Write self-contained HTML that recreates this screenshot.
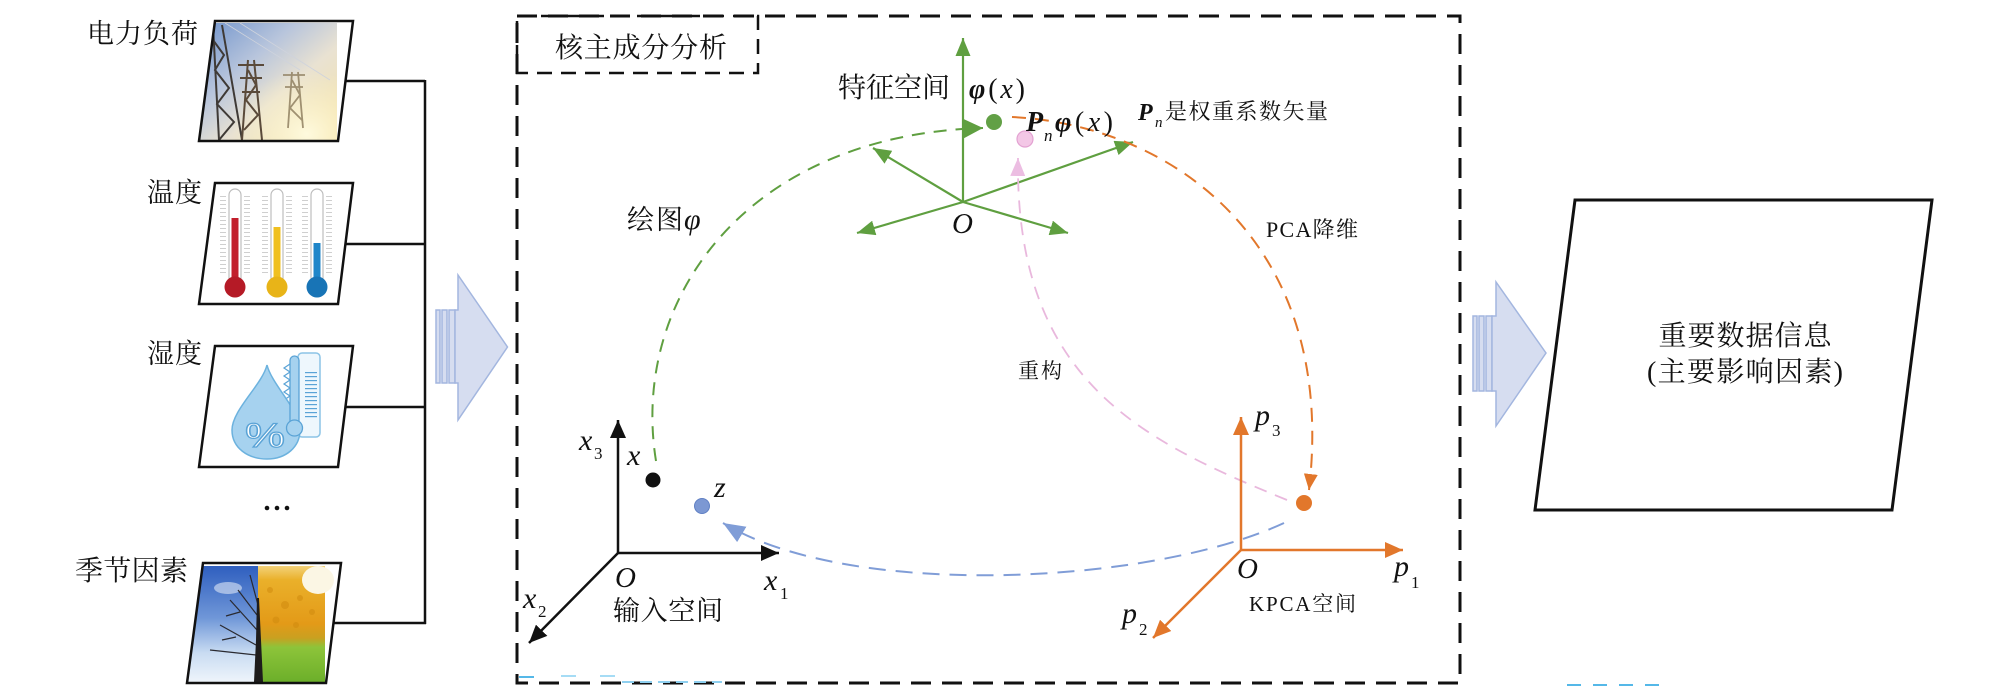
<!DOCTYPE html>
<html><head><meta charset="utf-8">
<style>
html,body{margin:0;padding:0;background:#fff;width:2008px;height:698px;overflow:hidden}
svg{display:block}
.cj{font-family:"Liberation Serif","Noto Serif CJK SC",serif;fill:#111}
.mi{font-family:"Liberation Serif",serif;font-style:italic;fill:#111}
.mu{font-family:"Liberation Serif",serif;fill:#111}
</style></head>
<body>
<svg width="2008" height="698" viewBox="0 0 2008 698" xmlns="http://www.w3.org/2000/svg">
<defs>
  <marker id="mB" viewBox="0 0 18 16" refX="18" refY="8" markerWidth="18" markerHeight="16" orient="auto" markerUnits="userSpaceOnUse"><path d="M0,0 L18,8 L0,16 z" fill="#111"/></marker>
  <marker id="mG" viewBox="0 0 18 15" refX="18" refY="7.5" markerWidth="18" markerHeight="15" orient="auto" markerUnits="userSpaceOnUse"><path d="M0,0 L18,7.5 L0,15 z" fill="#5f9f40"/></marker>
  <marker id="mGB" viewBox="0 0 20 20" refX="20" refY="10" markerWidth="20" markerHeight="20" orient="auto" markerUnits="userSpaceOnUse"><path d="M0,0 L20,10 L0,20 z" fill="#5f9f40"/></marker>
  <marker id="mO" viewBox="0 0 18 16" refX="18" refY="8" markerWidth="18" markerHeight="16" orient="auto" markerUnits="userSpaceOnUse"><path d="M0,0 L18,8 L0,16 z" fill="#e2772b"/></marker>
  <marker id="mOC" viewBox="0 0 16 14" refX="16" refY="7" markerWidth="16" markerHeight="14" orient="auto" markerUnits="userSpaceOnUse"><path d="M0,0 L16,7 L0,14 z" fill="#e2772b"/></marker>
  <marker id="mP" viewBox="0 0 18 15" refX="18" refY="7.5" markerWidth="18" markerHeight="15" orient="auto" markerUnits="userSpaceOnUse"><path d="M0,0 L18,7.5 L0,15 z" fill="#ecbde2"/></marker>
  <marker id="mBl" viewBox="0 0 22 18" refX="22" refY="9" markerWidth="22" markerHeight="18" orient="auto" markerUnits="userSpaceOnUse"><path d="M0,0 L22,9 L0,18 z" fill="#809dd7"/></marker>

  <clipPath id="c1"><polygon points="215,21 353,21 338,141 199,141"/></clipPath>
  <clipPath id="c4"><polygon points="203,563 341,563 326,683 187,683"/></clipPath>

  <linearGradient id="sky" x1="0" y1="0" x2="1" y2="1">
    <stop offset="0" stop-color="#6f93cc"/>
    <stop offset="0.35" stop-color="#b8c5dc"/>
    <stop offset="0.6" stop-color="#e9e2d2"/>
    <stop offset="1" stop-color="#f5e2a4"/>
  </linearGradient>
  <radialGradient id="sun" cx="0.78" cy="0.95" r="0.55">
    <stop offset="0" stop-color="#fffbe0" stop-opacity="0.95"/>
    <stop offset="1" stop-color="#fff3c0" stop-opacity="0"/>
  </radialGradient>
  <linearGradient id="win" x1="0" y1="0" x2="0" y2="1">
    <stop offset="0" stop-color="#2f5fbf"/>
    <stop offset="0.45" stop-color="#7097d8"/>
    <stop offset="0.75" stop-color="#c9dcf2"/>
    <stop offset="1" stop-color="#eef4fb"/>
  </linearGradient>
  <linearGradient id="aut" x1="0" y1="0" x2="0" y2="1">
    <stop offset="0" stop-color="#f3d27a"/>
    <stop offset="0.12" stop-color="#eab02a"/>
    <stop offset="0.5" stop-color="#e39a18"/>
    <stop offset="0.62" stop-color="#c9a020"/>
    <stop offset="0.7" stop-color="#8dc43a"/>
    <stop offset="1" stop-color="#6caf2a"/>
  </linearGradient>
  <pattern id="tk" width="6" height="4" patternUnits="userSpaceOnUse"><rect width="6" height="1" fill="#cfcfcf"/></pattern>
  <pattern id="tkb" width="12" height="4" patternUnits="userSpaceOnUse"><rect width="12" height="1.2" fill="#5aa3d6"/></pattern>
</defs>

<!-- Image 1: power towers -->
<g clip-path="url(#c1)">
  <rect x="199" y="23" width="138" height="117" fill="url(#sky)"/>
  <rect x="199" y="23" width="138" height="117" fill="url(#sun)"/>
  <g stroke="#cfd3dc" stroke-width="0.8" fill="none">
    <line x1="225" y1="23" x2="300" y2="70"/>
    <line x1="240" y1="23" x2="330" y2="80"/>
  </g>
  <g stroke="#3f3a36" stroke-width="2" fill="none">
    <line x1="213" y1="25" x2="219" y2="140"/>
    <line x1="222" y1="25" x2="242" y2="140"/>
    <polyline points="213,40 224,55 215,70 229,88 217,104 234,122 219,140"/>
  </g>
  <g stroke="#5a4a3a" stroke-width="2" fill="none">
    <line x1="248" y1="60" x2="242" y2="140"/>
    <line x1="254" y1="60" x2="262" y2="140"/>
    <line x1="238" y1="65" x2="264" y2="65"/>
    <line x1="240" y1="78" x2="262" y2="78"/>
    <line x1="242" y1="92" x2="260" y2="92"/>
    <polyline points="248,70 256,85 246,100 258,115 244,130"/>
  </g>
  <g stroke="#8a7a5a" stroke-width="1.8" fill="none" opacity="0.8">
    <line x1="292" y1="72" x2="288" y2="128"/>
    <line x1="298" y1="72" x2="303" y2="128"/>
    <line x1="283" y1="75" x2="305" y2="75"/>
    <line x1="285" y1="87" x2="303" y2="87"/>
    <polyline points="292,80 300,95 290,108 302,120"/>
  </g>
</g>
<polygon points="215,21 353,21 338,141 199,141" fill="none" stroke="#111" stroke-width="2.5"/>

<!-- Image 2: thermometers -->
<g>
  <rect x="220" y="193" width="6" height="82" fill="url(#tk)"/><rect x="244" y="193" width="6" height="82" fill="url(#tk)"/>
  <rect x="262" y="193" width="6" height="82" fill="url(#tk)"/><rect x="286" y="193" width="6" height="82" fill="url(#tk)"/>
  <rect x="302" y="193" width="6" height="82" fill="url(#tk)"/><rect x="326" y="193" width="6" height="82" fill="url(#tk)"/>
  <rect x="229" y="189" width="12" height="95" rx="6" fill="#fff" stroke="#bdbdbd" stroke-width="1.2"/>
  <rect x="271" y="189" width="12" height="95" rx="6" fill="#fff" stroke="#bdbdbd" stroke-width="1.2"/>
  <rect x="311" y="189" width="12" height="95" rx="6" fill="#fff" stroke="#bdbdbd" stroke-width="1.2"/>
  <rect x="231.5" y="218" width="7" height="66" fill="#c21f2c"/>
  <rect x="273.5" y="227" width="7" height="57" fill="#f0c020"/>
  <rect x="313.5" y="243" width="7" height="41" fill="#1f86c9"/>
  <circle cx="235" cy="287" r="10.5" fill="#b51a26"/>
  <circle cx="277" cy="287" r="10.5" fill="#e8b418"/>
  <circle cx="317" cy="287" r="10.5" fill="#1874b6"/>
</g>
<polygon points="215,183 353,183 338,304 199,304" fill="none" stroke="#111" stroke-width="2.5"/>

<!-- Image 3: humidity -->
<g>
  <rect x="298" y="353" width="22" height="84" rx="4" fill="#eef7fd" stroke="#8cc4e6" stroke-width="1.5"/>
  <rect x="305" y="370" width="12" height="48" fill="url(#tkb)"/>
  <polyline points="290,364 284,368 290,372 284,376 290,380 284,384 290,388 284,392 290,396 284,400 290,404 284,408 290,412" fill="none" stroke="#5aa3d6" stroke-width="1.2"/>
  <path d="M267,365 C262,385 232,410 232,430 C232,448 248,459 267,459 C286,459 300,447 300,430 C300,410 272,385 267,365 Z" fill="#a6d2ef" stroke="#6cb2de" stroke-width="1.5"/>
  <rect x="290" y="356" width="9" height="72" rx="4.5" fill="#a6d2ef" stroke="#5aa3d6" stroke-width="1.3"/>
  <circle cx="294.5" cy="428" r="8" fill="#a6d2ef" stroke="#5aa3d6" stroke-width="1.3"/>
  <text x="245" y="447" font-family="Liberation Sans, sans-serif" font-size="34" textLength="40" lengthAdjust="spacingAndGlyphs" fill="#fff" stroke="#5aa3d6" stroke-width="1.2">%</text>
</g>
<polygon points="215,346 353,346 338,467 199,467" fill="none" stroke="#111" stroke-width="2.5"/>

<circle cx="267" cy="508" r="2.3" fill="#111"/><circle cx="277" cy="508" r="2.3" fill="#111"/><circle cx="287" cy="508" r="2.3" fill="#111"/>

<!-- Image 4: seasons -->
<g clip-path="url(#c4)">
  <rect x="187" y="566" width="73" height="116" fill="url(#win)"/>
  <rect x="258" y="566" width="67" height="116" fill="url(#aut)"/>
  <ellipse cx="318" cy="580" rx="16" ry="14" fill="#fbf6e4"/>
  <ellipse cx="228" cy="588" rx="14" ry="6" fill="#c9d7f0" opacity="0.7"/>
  <g fill="#cf8a10" opacity="0.55">
    <circle cx="270" cy="590" r="3"/><circle cx="285" cy="605" r="4"/><circle cx="300" cy="598" r="3"/>
    <circle cx="276" cy="620" r="3.5"/><circle cx="296" cy="625" r="3"/><circle cx="312" cy="612" r="3"/>
  </g>
  <g stroke="#2a2a30" stroke-width="1.2" fill="none">
    <line x1="257" y1="630" x2="230" y2="600"/>
    <line x1="257" y1="615" x2="238" y2="590"/>
    <line x1="256" y1="645" x2="220" y2="625"/>
    <line x1="256" y1="655" x2="210" y2="650"/>
    <line x1="258" y1="605" x2="250" y2="575"/>
    <line x1="240" y1="612" x2="226" y2="616"/>
    <line x1="236" y1="637" x2="222" y2="640"/>
  </g>
  <polygon points="254,682 263,682 261,640 259,598 257,598 256,640" fill="#1e1c1c"/>
</g>
<polygon points="203,563 341,563 326,683 187,683" fill="none" stroke="#111" stroke-width="2.5"/>

<g stroke="#111" stroke-width="2.5" fill="none">
  <line x1="345" y1="81" x2="425" y2="81"/>
  <line x1="345" y1="244" x2="425" y2="244"/>
  <line x1="345" y1="407" x2="425" y2="407"/>
  <line x1="333" y1="623" x2="426" y2="623"/>
  <line x1="425" y1="80" x2="425" y2="624"/>
</g>

<text class="cj" x="87" y="43" font-size="27" textLength="111" lengthAdjust="spacing">电力负荷</text>
<text class="cj" x="147" y="202" font-size="27" textLength="55" lengthAdjust="spacing">温度</text>
<text class="cj" x="147" y="363" font-size="27" textLength="55" lengthAdjust="spacing">湿度</text>
<text class="cj" x="75" y="580" font-size="28" textLength="113" lengthAdjust="spacing">季节因素</text>

<g fill="#d6ddf0" stroke="#a3b6df" stroke-width="1.5">
  <rect x="436" y="310" width="4" height="73"/>
  <rect x="442" y="310" width="5" height="73"/>
  <rect x="449" y="310" width="6" height="73"/>
  <path d="M455,310 L458,310 L458,275 L507.5,347 L458,420 L458,383 L455,383 Z"/>
</g>

<rect x="517" y="16" width="943" height="667" fill="none" stroke="#111" stroke-width="3" stroke-dasharray="20 11"/>
<rect x="517" y="16" width="241" height="57" fill="none" stroke="#111" stroke-width="2.5" stroke-dasharray="15 9"/>
<text class="cj" x="555" y="57" font-size="28" textLength="172" lengthAdjust="spacing">核主成分分析</text>

<text class="cj" x="838" y="97" font-size="28" textLength="112" lengthAdjust="spacing">特征空间</text>
<g stroke="#5f9f40" stroke-width="2.2" fill="none">
  <line x1="963" y1="202" x2="963" y2="38" marker-end="url(#mG)"/>
  <line x1="963" y1="202" x2="873" y2="148" marker-end="url(#mG)"/>
  <line x1="963" y1="202" x2="857" y2="233" marker-end="url(#mG)"/>
  <line x1="963" y1="202" x2="1133" y2="142" marker-end="url(#mG)"/>
  <line x1="963" y1="202" x2="1068" y2="233" marker-end="url(#mG)"/>
</g>
<text class="mi" x="952" y="233" font-size="29">O</text>

<path d="M656,461 C630,300 745,135 983,128" fill="none" stroke="#5f9f40" stroke-width="2" stroke-dasharray="13 9" marker-end="url(#mGB)"/>
<text class="cj" x="627" y="229" font-size="27" textLength="56" lengthAdjust="spacing">绘图</text>
<text class="mi" x="684" y="229" font-size="30">φ</text>

<text x="969" y="98" font-size="28" class="mu" textLength="56" lengthAdjust="spacing"><tspan font-style="italic" font-weight="bold">φ</tspan>(<tspan font-style="italic">x</tspan>)</text>
<circle cx="994" cy="122" r="8" fill="#62a046"/>

<path d="M1012,117 C1170,125 1338,240 1309,490" fill="none" stroke="#e2772b" stroke-width="2" stroke-dasharray="14 9" marker-end="url(#mOC)"/>
<circle cx="1025" cy="139" r="8" fill="#f3c7e6" stroke="#e3a2d2" stroke-width="1.2"/>
<text x="1026" y="131" font-size="28" class="mu" font-style="italic" font-weight="bold">P</text>
<text x="1044" y="141" font-size="17" class="mi">n</text>
<text x="1055" y="131" font-size="28" class="mu" textLength="58" lengthAdjust="spacing"><tspan font-style="italic" font-weight="bold">φ</tspan>(<tspan font-style="italic">x</tspan>)</text>

<text x="1138" y="120" font-size="24" class="mu" font-style="italic" font-weight="bold">P</text>
<text x="1155" y="127" font-size="15" class="mi">n</text>
<text class="cj" x="1165" y="119" font-size="22" textLength="163" lengthAdjust="spacing">是权重系数矢量</text>

<text class="cj" x="1266" y="237" font-size="22" textLength="92" lengthAdjust="spacing">PCA降维</text>

<path d="M1287,500 C1140,440 1015,380 1018,158" fill="none" stroke="#e9b8dd" stroke-width="1.8" stroke-dasharray="13 9" marker-end="url(#mP)"/>
<text class="cj" x="1018" y="378" font-size="21" textLength="44" lengthAdjust="spacing">重构</text>

<path d="M1284,523 C1150,585 850,600 723,523" fill="none" stroke="#809dd7" stroke-width="2" stroke-dasharray="17 10" marker-end="url(#mBl)"/>

<g stroke="#e2772b" stroke-width="2.5" fill="none">
  <line x1="1241" y1="551" x2="1241" y2="417" marker-end="url(#mO)"/>
  <line x1="1240" y1="550" x2="1403" y2="550" marker-end="url(#mO)"/>
  <line x1="1241" y1="550" x2="1153" y2="638" marker-end="url(#mO)"/>
</g>
<circle cx="1304" cy="503" r="8" fill="#e2772b"/>
<text class="mi" x="1255" y="425" font-size="30">p</text><text class="mu" x="1272" y="436" font-size="17">3</text>
<text class="mi" x="1394" y="576" font-size="30">p</text><text class="mu" x="1411" y="588" font-size="17">1</text>
<text class="mi" x="1122" y="623" font-size="30">p</text><text class="mu" x="1139" y="635" font-size="17">2</text>
<text class="mi" x="1237" y="578" font-size="29">O</text>
<text class="cj" x="1249" y="611" font-size="21" textLength="107" lengthAdjust="spacing">KPCA空间</text>

<g stroke="#111" stroke-width="2.5" fill="none">
  <line x1="618" y1="554" x2="618" y2="420" marker-end="url(#mB)"/>
  <line x1="617" y1="553" x2="779" y2="553" marker-end="url(#mB)"/>
  <line x1="618" y1="553" x2="529" y2="643" marker-end="url(#mB)"/>
</g>
<circle cx="653" cy="480" r="7.5" fill="#111"/>
<circle cx="702" cy="506" r="7.5" fill="#7c98d3" stroke="#6080c4" stroke-width="1"/>
<text class="mi" x="579" y="450" font-size="30">x</text><text class="mu" x="594" y="459" font-size="17">3</text>
<text class="mi" x="627" y="465" font-size="30">x</text>
<text class="mi" x="714" y="497" font-size="30">z</text>
<text class="mi" x="615" y="587" font-size="29">O</text>
<text class="mi" x="764" y="590" font-size="30">x</text><text class="mu" x="780" y="599" font-size="17">1</text>
<text class="mi" x="523" y="608" font-size="30">x</text><text class="mu" x="538" y="617" font-size="17">2</text>
<text class="cj" x="613" y="620" font-size="27" textLength="110" lengthAdjust="spacing">输入空间</text>

<g stroke-width="2" fill="none">
  <line x1="519" y1="677" x2="534" y2="677" stroke="#55b8e8"/>
  <line x1="561" y1="676" x2="576" y2="676" stroke="#a6dcf5"/>
  <line x1="600" y1="676" x2="615" y2="676" stroke="#a6dcf5"/>
  <line x1="622" y1="682" x2="722" y2="682" stroke="#8fd0f0" stroke-dasharray="12 6"/>
  <line x1="1567" y1="685" x2="1671" y2="685" stroke="#55b8e8" stroke-dasharray="14 12"/>
</g>

<g fill="#d6ddf0" stroke="#a3b6df" stroke-width="1.5">
  <rect x="1473" y="316" width="4" height="75"/>
  <rect x="1479" y="316" width="5" height="75"/>
  <rect x="1486" y="316" width="6" height="75"/>
  <path d="M1492,316 L1496,316 L1496,282 L1546,353 L1496,426 L1496,391 L1492,391 Z"/>
</g>
<polygon points="1575,200 1932,200 1892,510 1535,510" fill="none" stroke="#111" stroke-width="3"/>
<text class="cj" x="1745" y="345" font-size="28" text-anchor="middle" textLength="173" lengthAdjust="spacing">重要数据信息</text>
<text class="cj" x="1745" y="381" font-size="28" text-anchor="middle" textLength="196" lengthAdjust="spacing">(主要影响因素)</text>
</svg>
</body></html>
